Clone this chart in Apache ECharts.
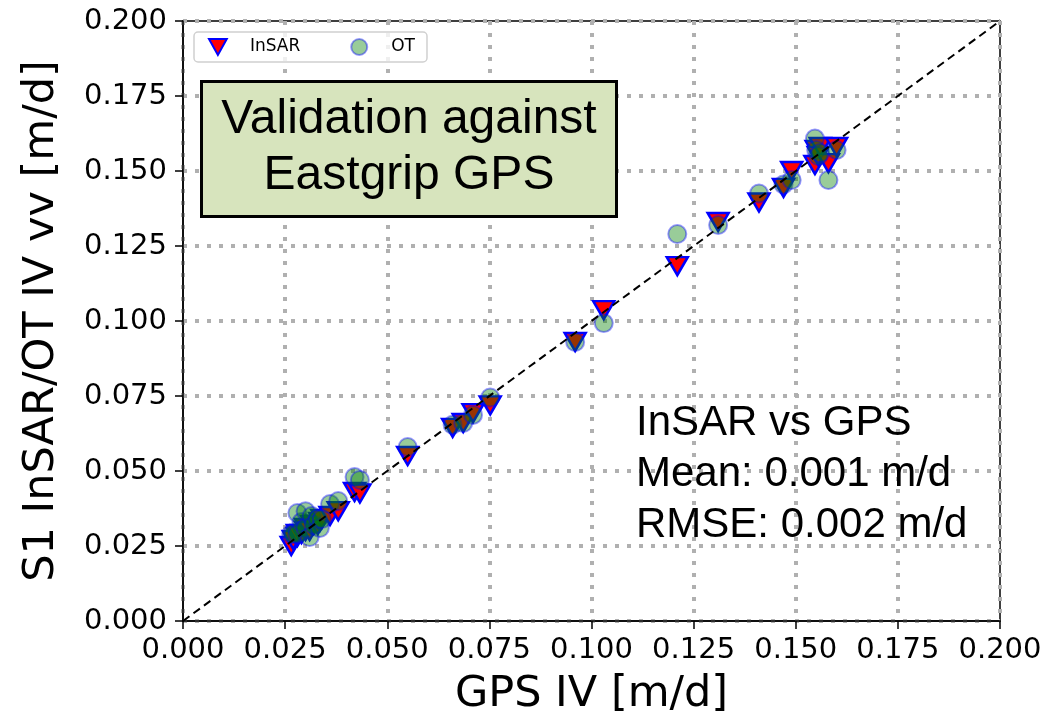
<!DOCTYPE html>
<html>
<head>
<meta charset="utf-8">
<script src="https://cdn.jsdelivr.net/npm/echarts@6/dist/echarts.min.js"></script>
<style>html,body{margin:0;padding:0;background:#fff;}#c{width:1049px;height:721px;}</style>
</head>
<body>
<div id="c"></div>
<script>
// GPS ice velocity (x) and corresponding InSAR / OT velocities (y), m/d
var gps   = [0.0265,0.027,0.028,0.028,0.029,0.030,0.030,0.031,0.0315,0.032,0.033,0.0335,0.034,0.036,0.038,0.042,0.0433,0.055,0.066,0.0686,0.071,0.0752,0.096,0.103,0.121,0.131,0.141,0.147,0.149,0.1547,0.155,0.1555,0.156,0.158,0.160];
var insar = [0.025,0.027,0.028,0.029,0.029,0.030,0.031,0.030,0.032,0.032,0.032,0.033,0.034,0.035,0.0366,0.043,0.0425,0.055,0.0644,0.066,0.0693,0.0719,0.093,0.1036,0.1183,0.133,0.1395,0.1444,0.150,0.152,0.157,0.155,0.158,0.1526,0.158];
var ot    = [0.029,0.029,0.036,0.029,0.033,0.0366,0.031,0.028,0.035,0.032,0.034,0.031,0.034,0.039,0.040,0.048,0.047,0.058,0.0654,0.066,0.0687,0.0745,0.093,0.0993,0.129,0.132,0.1425,0.1455,0.147,0.1608,0.157,0.155,0.156,0.147,0.157];
var oneToOne = [[0,0],[0.2,0.2]];
var axisMin = 0, axisMax = 0.2, axisStep = 0.025;
var boxLines = ['Validation against', 'Eastgrip GPS'];
var statLines = ['InSAR vs GPS', 'Mean: 0.001 m/d', 'RMSE: 0.002 m/d'];

var insarData = gps.map(function(g,i){return [g, insar[i]];});
var otData = gps.map(function(g,i){return [g, ot[i]];});

var chart = echarts.init(document.getElementById('c'), null, {renderer:'canvas'});
var tickFont = {fontFamily:'DejaVu Sans', fontSize:29, color:'#000'};
var gridLine = {show:true, lineStyle:{color:'#b0b0b0', width:4, type:[4,8]}};
function axisCommon(name){
  return {
    type:'value', min:axisMin, max:axisMax, interval:axisStep,
    name:name, nameLocation:'middle',
    nameTextStyle:{fontFamily:'DejaVu Sans', fontSize:43, color:'#000'},
    axisLine:{show:true, onZero:false, lineStyle:{color:'#000', width:1.5}},
    axisTick:{show:true, inside:false, length:8, lineStyle:{color:'#000', width:1.5}},
    axisLabel:Object.assign({formatter:function(v){return v.toFixed(3);}}, tickFont),
    splitLine:gridLine
  };
}
var xa = axisCommon('GPS IV [m/d]'); xa.nameGap = 52; xa.axisLabel.margin = 15;
var ya = axisCommon('S1 InSAR/OT IV vv [m/d]'); ya.nameGap = 120; ya.axisLabel.margin = 16;

chart.setOption({
  animation:false,
  backgroundColor:'#fff',
  grid:{left:183, right:49, top:21, bottom:91, show:true, borderColor:'#000', borderWidth:1.5, backgroundColor:'transparent', containLabel:false},
  xAxis:xa,
  yAxis:ya,
  legend:{
    left:194, top:32, orient:'horizontal',
    padding:[6,12,6,14], itemGap:50, itemWidth:18, itemHeight:16,
    borderColor:'#d0d0d0', borderWidth:1.5, borderRadius:4, backgroundColor:'rgba(255,255,255,0.8)',
    textStyle:{fontFamily:'DejaVu Sans', fontSize:17, color:'#000', padding:[0,0,0,18]},
    data:[
      {name:'InSAR', icon:'path://M0,0 L10,0 L5,9 Z'},
      {name:'OT', icon:'circle'}
    ]
  },
  series:[
    {name:'InSAR', type:'scatter', data:insarData, symbol:'triangle', symbolRotate:180, symbolSize:[21,18],
     itemStyle:{color:'#ff0000', borderColor:'#0000ff', borderWidth:2.5, opacity:1}, z:2},
    {name:'OT', type:'scatter', data:otData, symbol:'circle', symbolSize:18,
     itemStyle:{color:'rgba(0,128,0,0.5)', borderColor:'rgba(0,0,255,0.5)', borderWidth:2}, z:3},
    {name:'1:1', type:'line', data:oneToOne, symbol:'none', silent:true,
     lineStyle:{color:'#000', width:2, type:[8,5]}, z:4}
  ],
  graphic:[
    {type:'rect', left:200, top:80, shape:{width:415, height:135}, style:{fill:'#d7e4bd', stroke:'#000', lineWidth:3}, z:10},
    {type:'text', x:409, y:148, style:{text:boxLines.join('\n'), fontFamily:'Liberation Sans', fontSize:48, lineHeight:56, fill:'#000', align:'center', verticalAlign:'middle'}, z:11},
    {type:'text', x:636, y:398, style:{text:statLines.join('\n'), fontFamily:'Liberation Sans', fontSize:42, lineHeight:51, fill:'#000', align:'left', verticalAlign:'top'}, z:11}
  ]
});
</script>
</body>
</html>
